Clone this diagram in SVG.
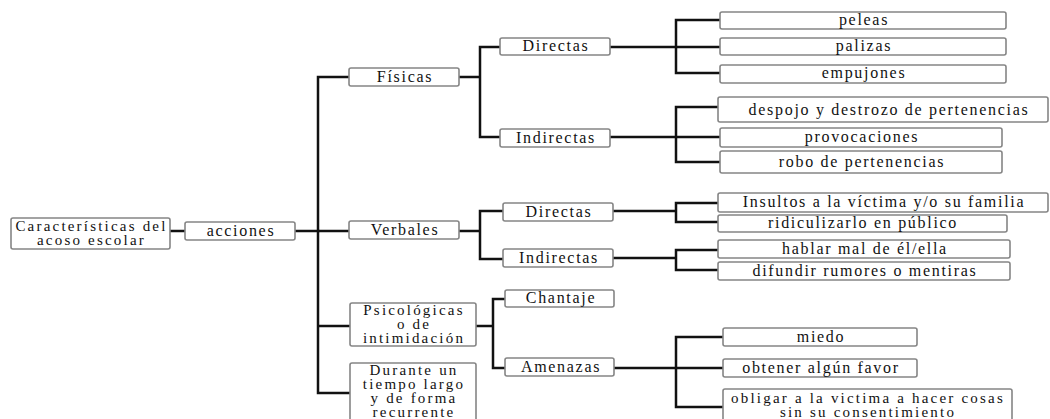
<svg xmlns="http://www.w3.org/2000/svg" width="1050" height="419" viewBox="0 0 1050 419">
<style>
.b{fill:#fff;stroke:#858585;stroke-width:1.6}
.t{font-family:"Liberation Serif","Times New Roman",serif;font-size:16px;letter-spacing:1.7px;fill:#111;text-anchor:middle}
.m{font-size:15px;letter-spacing:2.2px}
.c{fill:none;stroke:#111;stroke-width:2.5;stroke-linecap:square}
</style>
<rect width="1050" height="419" fill="#fff"/>
<g id="connectors" class="c">
<path d="M170 231H185M295 231H318"/>
<path d="M318 77V393M318 77H349M318 231H349M318 326H350M318 393H350"/>
<path d="M459 77H480M480 47V137M480 47H500M480 137H500"/>
<path d="M610 47H676M676 20V73M676 20H720M676 47H720M676 73H720"/>
<path d="M610 137H676M676 107V162M676 107H718M676 137H720M676 162H720"/>
<path d="M459 231H480M480 211V259M480 211H503M480 259H503"/>
<path d="M613 211H676M676 203V222M676 203H718M676 222H718"/>
<path d="M613 258H676M676 250V270M676 250H718M676 270H718"/>
<path d="M476 326H493M493 299V368M493 299H505M493 368H505"/>
<path d="M614 368H676M676 337V407M676 337H723M676 368H723M676 407H723"/>
</g>
<g id="root"><rect class="b" x="11" y="218" width="159" height="31" rx="2"/><text class="t m" x="91.5" y="231">Características del</text><text class="t m" x="91.5" y="245">acoso escolar</text></g>
<g id="acciones"><rect class="b" x="185" y="222" width="110" height="18" rx="2"/><text class="t" x="241" y="236">acciones</text></g>
<g id="fisicas"><rect class="b" x="349" y="68" width="110" height="18" rx="2"/><text class="t" x="405" y="82">Físicas</text></g>
<g id="fis-directas"><rect class="b" x="500" y="38" width="110" height="17" rx="2"/><text class="t" x="556" y="51">Directas</text></g>
<g id="fis-indirectas"><rect class="b" x="500" y="129" width="110" height="18" rx="2"/><text class="t" x="556" y="143">Indirectas</text></g>
<g id="peleas"><rect class="b" x="720" y="12" width="286" height="17" rx="2"/><text class="t" x="864" y="25">peleas</text></g>
<g id="palizas"><rect class="b" x="720" y="38" width="286" height="17" rx="2"/><text class="t" x="864" y="51">palizas</text></g>
<g id="empujones"><rect class="b" x="720" y="65" width="286" height="18" rx="2"/><text class="t" x="864" y="78">empujones</text></g>
<g id="despojo"><rect class="b" x="718" y="97" width="330" height="25" rx="2"/><text class="t" x="889" y="115">despojo y destrozo de pertenencias</text></g>
<g id="provocaciones"><rect class="b" x="720" y="128" width="282" height="19" rx="2"/><text class="t" x="862" y="142">provocaciones</text></g>
<g id="robo"><rect class="b" x="720" y="151" width="282" height="22" rx="2"/><text class="t" x="862" y="167">robo de pertenencias</text></g>
<g id="verbales"><rect class="b" x="349" y="221" width="110" height="18" rx="2"/><text class="t" x="405" y="235">Verbales</text></g>
<g id="ver-directas"><rect class="b" x="503" y="203" width="110" height="18" rx="2"/><text class="t" x="559" y="217">Directas</text></g>
<g id="ver-indirectas"><rect class="b" x="503" y="249" width="110" height="18" rx="2"/><text class="t" x="559" y="263">Indirectas</text></g>
<g id="insultos"><rect class="b" x="718" y="193" width="330" height="19" rx="2"/><text class="t" x="884" y="207">Insultos a la víctima y/o su familia</text></g>
<g id="ridiculizarlo"><rect class="b" x="718" y="215" width="289" height="17" rx="2"/><text class="t" x="863" y="228">ridiculizarlo en público</text></g>
<g id="hablar"><rect class="b" x="718" y="240" width="292" height="18" rx="2"/><text class="t" x="865" y="254">hablar mal de él/ella</text></g>
<g id="difundir"><rect class="b" x="718" y="262" width="292" height="18" rx="2"/><text class="t" x="865" y="276">difundir rumores o mentiras</text></g>
<g id="psicologicas"><rect class="b" x="350" y="303" width="126" height="43" rx="2"/><text class="t m" x="414" y="315">Psicológicas</text><text class="t m" x="414" y="329">o de</text><text class="t m" x="414" y="343">intimidación</text></g>
<g id="chantaje"><rect class="b" x="505" y="290" width="109" height="17" rx="2"/><text class="t" x="561" y="303">Chantaje</text></g>
<g id="amenazas"><rect class="b" x="505" y="358" width="109" height="18" rx="2"/><text class="t" x="561" y="372">Amenazas</text></g>
<g id="miedo"><rect class="b" x="723" y="328" width="194" height="18" rx="2"/><text class="t" x="821" y="342">miedo</text></g>
<g id="obtener"><rect class="b" x="723" y="359" width="194" height="18" rx="2"/><text class="t" x="821" y="373">obtener algún favor</text></g>
<g id="obligar"><rect class="b" x="723" y="389" width="289" height="36" rx="2"/><text class="t m" x="868" y="403">obligar a la victima a hacer cosas</text><text class="t m" x="868" y="417">sin su consentimiento</text></g>
<g id="durante"><rect class="b" x="350" y="363" width="126" height="62" rx="2"/><text class="t m" x="414" y="375">Durante un</text><text class="t m" x="414" y="389">tiempo largo</text><text class="t m" x="414" y="403">y de forma</text><text class="t m" x="414" y="417">recurrente</text></g>
</svg>
